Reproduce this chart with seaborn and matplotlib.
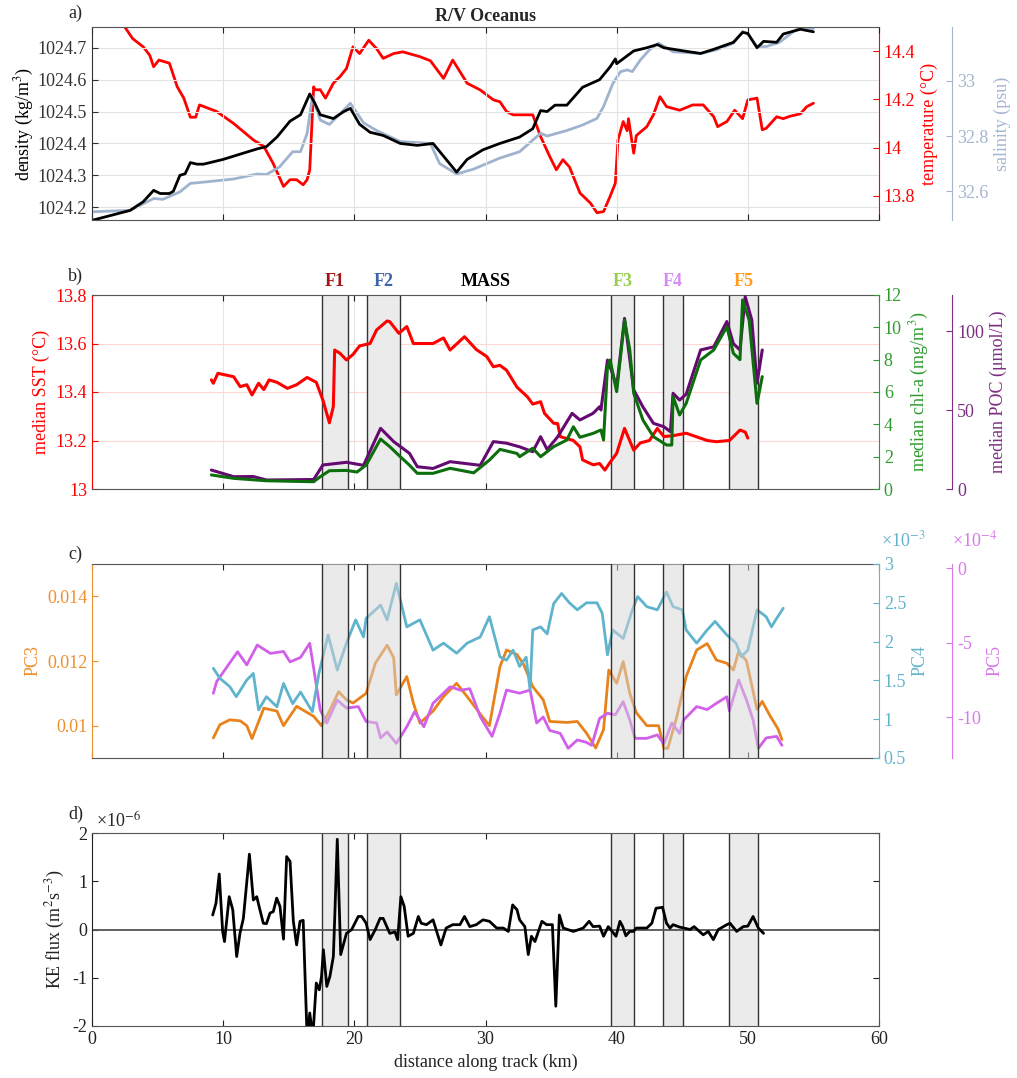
import numpy as np
import pandas as pd
import matplotlib
matplotlib.use('Agg')
import matplotlib.pyplot as plt
from matplotlib.ticker import FuncFormatter
import seaborn as sns

# ---------------- data ----------------
# panel a (R/V Oceanus, along-track)
dens_km = [0.1, 1.5, 2.9, 3.9, 4.7, 5.2, 5.9, 6.2, 6.7, 7.1, 7.5, 8.0, 8.5, 10.0, 12.6, 13.3, 14.1, 15.1, 15.9, 16.6,
           17.0, 17.4, 18.4, 19.2, 19.7, 20.4, 21.2, 22.2, 23.5, 24.8, 26.0, 26.8, 27.8, 28.6, 29.8, 31.1, 32.6, 33.6,
           34.2, 34.7, 35.3, 36.2, 37.4, 38.7, 39.5, 39.9, 40.0, 41.3, 42.3, 43.1, 43.6, 45.1, 46.4, 47.4, 48.9, 49.6,
           50.0, 50.7, 51.2, 52.2, 52.7, 54.0, 55.0]
density = [1024.16, 1024.175, 1024.19, 1024.217, 1024.253, 1024.243, 1024.243, 1024.25, 1024.30, 1024.305, 1024.34,
           1024.335, 1024.335, 1024.35, 1024.383, 1024.39, 1024.42, 1024.47, 1024.49, 1024.555, 1024.525, 1024.49,
           1024.478, 1024.50, 1024.51, 1024.46, 1024.435, 1024.425, 1024.40, 1024.394, 1024.40, 1024.36, 1024.31,
           1024.35, 1024.38, 1024.40, 1024.42, 1024.446, 1024.503, 1024.50, 1024.52, 1024.52, 1024.576, 1024.60,
           1024.64, 1024.665, 1024.65, 1024.69, 1024.70, 1024.71, 1024.70, 1024.69, 1024.682, 1024.695, 1024.717,
           1024.748, 1024.745, 1024.70, 1024.72, 1024.717, 1024.743, 1024.758, 1024.75]

sal_km = [0.1, 2.9, 4.7, 5.4, 6.7, 7.5, 8.8, 10.8, 12.6, 13.3, 14.3, 15.3, 15.9, 16.4, 16.8, 17.4, 18.1, 19.7, 20.7,
          21.7, 23.5, 25.8, 26.5, 27.8, 29.1, 31.1, 32.6, 34.2, 34.7, 36.2, 37.4, 38.5, 39.0, 39.7, 40.3, 40.8, 41.2,
          41.8, 42.5, 43.2, 44.3, 46.4, 47.6, 48.9, 49.6, 50.0, 50.7, 51.4, 52.4, 53.5, 54.0, 55.0]
salinity = [32.525, 32.53, 32.573, 32.57, 32.597, 32.628, 32.634, 32.644, 32.662, 32.66, 32.688, 32.743, 32.743,
            32.81, 32.943, 32.858, 32.842, 32.919, 32.848, 32.82, 32.78, 32.773, 32.70, 32.662, 32.68, 32.72, 32.743,
            32.81, 32.80, 32.82, 32.84, 32.864, 32.907, 32.99, 33.034, 33.04, 33.034, 33.076, 33.113, 33.137, 33.106,
            33.10, 33.113, 33.137, 33.18, 33.17, 33.125, 33.125, 33.14, 33.18, 33.194, 33.19]

temp_km = [1.8, 2.5, 3.1, 3.9, 4.4, 4.7, 5.1, 5.9, 6.5, 7.0, 7.5, 7.9, 8.2, 9.5, 10.8, 12.3, 13.1, 13.8, 14.6, 15.1,
           15.6, 16.1, 16.4, 16.6, 16.9, 17.0, 17.4, 17.8, 18.4, 18.9, 19.4, 19.9, 20.4, 21.1, 21.7, 22.2, 23.0, 23.7,
           25.0, 25.8, 26.8, 27.5, 28.6, 29.6, 30.6, 31.1, 31.6, 32.1, 32.6, 33.6, 34.2, 34.9, 35.4, 35.9, 36.4, 37.2,
           38.0, 38.5, 39.0, 39.5, 39.9, 40.1, 40.5, 40.8, 40.9, 41.3, 41.5, 42.3, 42.8, 43.3, 43.8, 44.8, 45.8, 46.6,
           47.4, 47.7, 48.4, 49.0, 49.6, 50.0, 50.7, 51.1, 51.4, 52.2, 52.7, 53.2, 54.0, 54.5, 55.0]
temperature = [14.56, 14.50, 14.452, 14.418, 14.383, 14.335, 14.363, 14.35, 14.252, 14.205, 14.126, 14.126, 14.177,
               14.15, 14.10, 14.032, 14.005, 13.936, 13.839, 13.867, 13.867, 13.846, 13.867, 13.908, 14.252, 14.24,
               14.24, 14.205, 14.267, 14.294, 14.328, 14.418, 14.39, 14.445, 14.41, 14.37, 14.39, 14.397, 14.377,
               14.36, 14.287, 14.363, 14.267, 14.239, 14.198, 14.19, 14.15, 14.136, 14.136, 14.136, 14.046, 13.963,
               13.908, 13.95, 13.92, 13.812, 13.77, 13.73, 13.735, 13.798, 13.853, 14.032, 14.108, 14.07, 14.12,
               13.977, 14.05, 14.087, 14.136, 14.211, 14.17, 14.155, 14.177, 14.177, 14.128, 14.087, 14.108, 14.155,
               14.12, 14.198, 14.205, 14.074, 14.08, 14.128, 14.12, 14.13, 14.14, 14.17, 14.184]

# panel b (MASS)
sst_km = [9.1, 9.25, 9.6, 10.8, 11.3, 11.8, 12.2, 12.7, 13.1, 13.5, 14.1, 14.9, 15.6, 16.4, 17.1, 17.6, 18.1, 18.4,
          18.5, 18.9, 19.4, 19.9, 20.4, 21.2, 21.7, 22.5, 22.7, 23.4, 24.0, 24.5, 26.0, 26.8, 27.3, 28.4, 29.3, 30.1,
          30.6, 31.1, 31.6, 32.4, 33.2, 33.6, 34.2, 34.5, 35.2, 35.5, 35.7, 36.7, 37.2, 37.4, 38.2, 38.7, 39.1, 39.5,
          40.0, 40.6, 41.3, 41.8, 42.5, 43.1, 43.6, 44.3, 45.3, 46.9, 47.6, 48.6, 49.4, 49.8, 50.0]
sst = [13.45, 13.436, 13.477, 13.463, 13.422, 13.43, 13.388, 13.436, 13.41, 13.45, 13.44, 13.415, 13.43, 13.46, 13.44,
       13.367, 13.273, 13.34, 13.573, 13.56, 13.532, 13.555, 13.59, 13.60, 13.656, 13.693, 13.69, 13.642, 13.67, 13.60,
       13.60, 13.623, 13.573, 13.628, 13.575, 13.546, 13.504, 13.51, 13.49, 13.42, 13.38, 13.35, 13.36, 13.312, 13.271,
       13.27, 13.216, 13.20, 13.174, 13.12, 13.10, 13.105, 13.078, 13.11, 13.147, 13.25, 13.16, 13.19, 13.20, 13.25,
       13.216, 13.22, 13.23, 13.20, 13.195, 13.20, 13.243, 13.235, 13.21]

chl_km = [9.1, 10.8, 13.3, 16.9, 17.4, 18.1, 19.4, 20.2, 20.9, 22.0, 22.7, 23.5, 24.2, 24.8, 26.0, 27.3, 29.1, 30.3,
          31.1, 32.4, 32.6, 33.6, 34.2, 35.2, 36.2, 36.7, 37.2, 38.2, 38.8, 39.0, 39.3, 39.5, 40.0, 40.6, 41.0, 41.3,
          42.0, 42.8, 43.8, 44.2, 44.3, 44.8, 45.3, 46.4, 47.4, 48.4, 48.9, 49.4, 49.6, 50.1, 50.7, 51.1]
chl = [0.87, 0.66, 0.51, 0.45, 0.76, 1.13, 1.15, 1.05, 1.48, 3.09, 2.62, 2.0, 1.48, 0.97, 0.97, 1.28, 1.0, 1.79, 2.45,
       2.2, 2.0, 2.52, 2.0, 2.62, 3.03, 3.85, 3.2, 3.44, 3.65, 3.03, 7.56, 7.98, 6.02, 10.45, 8.6, 5.92, 4.27, 3.24,
       2.72, 2.72, 5.71, 4.58, 5.3, 7.98, 8.6, 10.04, 8.39, 8.0, 11.69, 10.45, 5.3, 6.95]

poc_km = [9.1, 10.8, 12.3, 13.3, 16.9, 17.6, 19.4, 20.7, 22.0, 23.0, 24.2, 24.8, 26.0, 27.3, 29.6, 30.6, 31.6, 32.6,
          33.6, 34.2, 34.7, 35.5, 36.6, 37.2, 38.2, 38.7, 38.8, 39.3, 39.6, 40.0, 40.6, 41.3, 42.0, 42.8, 43.6, 44.1,
          44.3, 44.8, 45.3, 46.4, 47.4, 48.4, 48.9, 49.4, 49.8, 50.3, 50.7, 51.1]
poc = [12.0, 7.8, 7.9, 5.7, 6.0, 15.2, 16.9, 15.0, 38.4, 30.0, 22.6, 14.1, 13.0, 17.3, 15.0, 30.0, 29.0, 26.7, 23.6,
       33.1, 25.0, 33.0, 47.9, 43.7, 47.9, 52.1, 50.0, 81.6, 75.0, 64.7, 108.0, 62.7, 52.0, 41.6, 39.4, 36.3, 60.6,
       56.3, 60.0, 88.0, 90.0, 106.0, 92.0, 88.0, 121.7, 107.0, 67.0, 88.0]

# panel c (principal components)
pc3_km = [9.25, 9.75, 10.5, 11.3, 11.8, 12.2, 13.1, 14.1, 14.6, 15.6, 16.9, 17.5, 18.1, 18.8, 19.4, 19.9, 20.9, 21.6,
          22.5, 23.0, 23.2, 24.0, 24.5, 25.0, 26.0, 26.8, 27.8, 28.6, 29.6, 30.3, 31.1, 31.6, 32.4, 32.9, 33.6, 34.4,
          34.9, 36.2, 37.0, 37.7, 38.4, 39.0, 39.4, 40.0, 40.5, 41.0, 41.5, 42.3, 43.2, 43.6, 43.9, 44.6, 45.3, 46.1,
          46.9, 47.6, 48.4, 48.9, 49.3, 49.9, 50.7, 51.1, 51.7, 52.3, 52.6]
pc3 = [0.00962, 0.01003, 0.01018, 0.01015, 0.0100, 0.0096, 0.01054, 0.01045, 0.0100, 0.0106, 0.01029, 0.0100,
       0.01045, 0.01105, 0.0108, 0.0107, 0.0110, 0.01193, 0.01249, 0.0121, 0.01095, 0.01152, 0.0107, 0.01008, 0.01045,
       0.0109, 0.01131, 0.0109, 0.01036, 0.0100, 0.01182, 0.01234, 0.0122, 0.0119, 0.01121, 0.0108, 0.01013, 0.0101,
       0.01013, 0.00977, 0.00931, 0.00988, 0.01172, 0.01131, 0.01198, 0.0110, 0.0104, 0.0100, 0.0100, 0.0093, 0.0093,
       0.0103, 0.01152, 0.01234, 0.01254, 0.01203, 0.01193, 0.01172, 0.0123, 0.0120, 0.0105, 0.01075, 0.0103, 0.0099,
       0.00957]

pc4_km = [9.25, 9.75, 10.5, 11.0, 11.8, 12.3, 12.7, 13.3, 14.1, 14.6, 15.3, 15.9, 16.8, 17.3, 18.0, 18.7, 19.4, 20.1,
          20.7, 20.9, 22.0, 22.5, 23.2, 24.0, 25.0, 26.0, 26.8, 27.8, 28.6, 29.6, 30.3, 31.1, 31.6, 32.1, 32.6, 33.1,
          33.4, 33.6, 34.2, 34.7, 35.2, 35.8, 36.4, 37.0, 37.7, 38.5, 38.9, 39.3, 39.7, 40.5, 41.2, 41.6, 42.3, 43.1,
          43.8, 44.3, 45.0, 45.3, 46.1, 46.9, 47.5, 48.4, 49.1, 49.5, 50.0, 50.7, 51.4, 51.8, 52.2, 52.7]
pc4_e3 = [1.656, 1.527, 1.42, 1.29, 1.505, 1.59, 1.12, 1.29, 1.16, 1.46, 1.2, 1.35, 1.097, 1.59, 2.085, 1.634, 1.98,
          2.28, 2.06, 2.3, 2.47, 2.28, 2.75, 2.19, 2.28, 1.89, 1.98, 1.85, 1.98, 2.06, 2.32, 1.805, 1.76, 1.89, 1.68,
          1.8, 1.376, 2.15, 2.19, 2.1, 2.49, 2.62, 2.5, 2.41, 2.5, 2.5, 2.365, 1.83, 2.15, 2.04, 2.41, 2.58, 2.45,
          2.41, 2.64, 2.45, 2.41, 2.15, 1.98, 2.15, 2.26, 2.085, 1.98, 1.805, 1.89, 2.41, 2.32, 2.19, 2.3, 2.43]

pc5_km = [9.25, 9.5, 10.3, 11.1, 11.8, 12.6, 13.6, 14.6, 15.1, 15.9, 16.6, 17.4, 17.9, 18.7, 19.4, 20.3, 20.9, 21.7,
          22.0, 22.5, 23.2, 24.0, 24.6, 25.3, 26.0, 27.3, 28.1, 28.8, 29.6, 30.5, 31.1, 31.6, 32.6, 33.4, 33.9, 34.4,
          34.9, 35.7, 36.3, 37.0, 37.7, 38.1, 38.7, 39.3, 39.9, 40.5, 41.0, 41.4, 42.3, 43.1, 43.6, 44.2, 44.8, 45.1,
          46.1, 46.9, 47.6, 48.4, 48.6, 49.3, 49.9, 50.4, 50.8, 51.4, 52.2, 52.6]
pc5_e4 = [-8.41, -7.63, -6.62, -5.62, -6.5, -5.17, -5.73, -5.6, -6.3, -6.0, -5.05, -9.53, -10.4, -8.86, -9.4, -9.3,
          -10.3, -10.4, -11.4, -11.0, -11.77, -10.65, -9.64, -10.65, -9.08, -7.97, -8.2, -8.1, -9.98, -11.3, -9.75,
          -8.19, -8.4, -8.19, -10.4, -10.0, -10.9, -11.1, -12.1, -11.54, -11.7, -11.9, -10.09, -9.75, -9.85, -8.97,
          -10.2, -11.43, -11.43, -11.2, -11.8, -10.4, -11.1, -10.2, -9.3, -9.5, -9.08, -8.64, -9.6, -7.52, -8.86,
          -10.2, -12.1, -11.4, -11.3, -11.9]

# panel d (KE flux, x1e-6)
ke_km = [9.2, 9.45, 9.7, 9.96, 10.1, 10.46, 10.73, 11.03, 11.28, 11.54, 12.0, 12.3, 12.56, 12.8, 13.06, 13.3, 13.57,
         13.82, 14.08, 14.33, 14.6, 14.84, 15.1, 15.35, 15.6, 15.86, 16.1, 16.37, 16.49, 16.6, 16.75, 16.87, 17.1,
         17.33, 17.5, 17.64, 17.9, 18.14, 18.4, 18.5, 18.7, 18.96, 19.2, 19.4, 19.8, 20.3, 20.56, 20.9, 21.2, 21.6,
         21.96, 22.2, 22.7, 23.1, 23.3, 23.55, 23.8, 24.1, 24.5, 24.88, 25.1, 25.5, 26.0, 26.6, 27.0, 27.5, 28.05,
         28.4, 28.8, 29.3, 29.8, 30.3, 30.85, 31.36, 31.74, 32.07, 32.4, 32.6, 33.0, 33.26, 33.5, 33.77, 34.3, 34.66,
         35.1, 35.36, 35.63, 35.93, 36.7, 37.45, 37.9, 38.2, 38.7, 39.0, 39.36, 39.95, 40.25, 40.46, 40.7, 41.0,
         41.27, 41.5, 42.3, 42.68, 43.0, 43.5, 43.8, 44.07, 44.3, 44.8, 45.6, 45.9, 46.6, 46.98, 47.37, 47.75, 48.4,
         48.64, 49.15, 49.65, 50.0, 50.4, 50.8, 51.2]
ke_e6 = [0.30, 0.54, 1.15, -0.04, -0.25, 0.68, 0.41, -0.56, -0.08, 0.23, 1.56, 0.61, 0.68, 0.41, 0.13, 0.12, 0.34,
         0.37, 0.65, 0.48, -0.2, 1.51, 1.41, 0.17, -0.32, 0.17, 0.19, -2.0, -2.08, -1.73, -2.05, -2.08, -1.11, -1.25,
         -0.97, -0.42, -1.18, -0.97, -0.56, 0.2, 1.87, -0.52, -0.28, -0.08, 0.0, 0.27, 0.27, 0.13, -0.21, 0.0, 0.23,
         0.23, -0.08, -0.05, -0.21, 0.68, 0.48, -0.14, -0.08, 0.27, 0.13, 0.1, 0.2, -0.32, 0.03, 0.1, 0.1, 0.27, 0.06,
         0.1, 0.2, 0.17, 0.03, 0.03, -0.04, 0.51, 0.41, 0.2, 0.06, -0.52, -0.14, -0.25, 0.17, 0.1, 0.1, -1.59, 0.3,
         0.03, -0.04, 0.03, 0.17, 0.06, 0.07, -0.14, 0.06, -0.14, 0.17, 0.06, -0.13, -0.04, -0.04, 0.03, 0.03, 0.13,
         0.44, 0.46, 0.13, 0.03, 0.1, 0.05, 0.0, 0.06, -0.11, -0.04, -0.21, 0.0, 0.1, 0.13, -0.04, 0.06, 0.07, 0.27,
         0.03, -0.08]

# fronts
front_names = ['F1', 'F2', 'F3', 'F4', 'F5']
front_start = [17.5, 21.0, 39.55, 43.5, 48.55]
front_end = [19.5, 23.5, 41.3, 45.05, 50.8]
front_colors = ['#a31515', '#3e63a8', '#95cf4a', '#d68cf2', '#ff9b1e']

# ---------------- style ----------------
sns.set_style("white")
plt.rcParams['font.family'] = ['Liberation Serif', 'DejaVu Serif']
plt.rcParams['mathtext.fontset'] = 'stix'
plt.rcParams['font.size'] = 13
plt.rcParams['axes.unicode_minus'] = False

fmt = FuncFormatter(lambda v, p: f'{v:g}')
SPINE = '#555555'

fig = plt.figure(figsize=(10.17, 10.78), dpi=100)
L, W = 92 / 1017, 787 / 1017
def axpos(top, bot):
    return [L, 1 - bot / 1078, W, (bot - top) / 1078]

def style_host(ax, ycolor, xlabels=False):
    ax.set_xlim(0, 60)
    ax.set_xticks(range(0, 61, 10))
    if not xlabels:
        ax.set_xticklabels([])
    for s in ['top', 'bottom']:
        ax.spines[s].set_color(SPINE)
        ax.spines[s].set_linewidth(0.8)
    ax.spines['left'].set_color(ycolor)
    ax.spines['left'].set_linewidth(0.8)
    ax.spines['right'].set_visible(False)
    ax.tick_params(axis='x', direction='in', length=4, top=True, bottom=True, colors='#222222')
    ax.tick_params(axis='y', direction='in', length=4, left=True, colors=ycolor)
    ax.yaxis.set_major_formatter(fmt)

def add_right(ax, pos, color, ylim, ticks, label, lcolor=None):
    tw = ax.twinx()
    for s in ['left', 'top', 'bottom']:
        tw.spines[s].set_visible(False)
    tw.spines['right'].set_position(('axes', pos))
    tw.spines['right'].set_color(color)
    tw.spines['right'].set_linewidth(0.8)
    tw.set_ylim(*ylim)
    tw.set_yticks(ticks)
    tw.yaxis.set_major_formatter(fmt)
    tw.tick_params(axis='y', direction='in', length=4, colors=color, right=True)
    tw.set_ylabel(label, color=lcolor or color)
    return tw

def line(ax, x, y, color, lw=2.0, z=2):
    sns.lineplot(x=x, y=y, ax=ax, color=color, linewidth=lw, estimator=None, zorder=z)
    ax.set_xlabel('')
    ax.set_ylabel('')

# ---------- panel a ----------
axa = fig.add_axes(axpos(27, 220))
line(axa, dens_km, density, 'black')
style_host(axa, '#333333')
axa.set_ylim(1024.16, 1024.765)
axa.set_yticks([1024.2, 1024.3, 1024.4, 1024.5, 1024.6, 1024.7])
axa.grid(True, color='#e2e2e2', linewidth=0.8)
axa.set_axisbelow(True)
axa.set_ylabel('density (kg/m$^3$)', color='black', labelpad=1)
axa.set_title('R/V Oceanus', fontweight='bold', fontsize=13, pad=4)
sal_ax = add_right(axa, 1.093, '#a4b6cf', (32.495, 33.196), [32.6, 32.8, 33.0], 'salinity (psu)')
line(sal_ax, sal_km, salinity, '#9fb3cf')
sal_ax.set_ylabel('salinity (psu)', color='#a4b6cf')
tmp_ax = add_right(axa, 1.0, '#ff0000', (13.7, 14.5), [13.8, 14.0, 14.2, 14.4], 'temperature (°C)')
line(tmp_ax, temp_km, temperature, '#ff0000')
tmp_ax.set_ylabel('temperature (°C)', color='#ff0000')
# density on top
axa.set_zorder(tmp_ax.get_zorder() + 1)
axa.patch.set_visible(False)
sal_ax.set_zorder(axa.get_zorder() - 1)
tmp_ax.set_zorder(sal_ax.get_zorder() - 1)
tmp_ax.patch.set_visible(True)
tmp_ax.patch.set_facecolor('white')

# ---------- panel b ----------
axb = fig.add_axes(axpos(295, 489))
line(axb, sst_km, sst, '#ff0000', lw=2.2)
style_host(axb, '#ff0000')
axb.set_ylim(13, 13.8)
axb.set_yticks([13, 13.2, 13.4, 13.6, 13.8])
axb.grid(axis='y', color='#ffd6d6', linewidth=0.8)
axb.grid(axis='x', color='#e6e6e6', linewidth=0.8)
axb.set_axisbelow(True)
axb.set_ylabel('median SST (°C)', color='#ff0000')
for s, e in zip(front_start, front_end):
    axb.axvspan(s, e, facecolor='#ebebeb', edgecolor='none', zorder=0.8)
    axb.axvline(s, color='#333333', lw=1.0, zorder=0.9)
    axb.axvline(e, color='#333333', lw=1.0, zorder=0.9)
poc_ax = add_right(axb, 1.093, '#7d2f82', (0, 122.8), [0, 50, 100], 'median POC (μmol/L)')
line(poc_ax, poc_km, poc, '#650a70', lw=2.2)
poc_ax.set_ylabel('median POC (μmol/L)', color='#7d2f82')
chl_ax = add_right(axb, 1.0, '#2f9a2f', (0, 12), list(range(0, 13, 2)), 'median chl-a (mg/m$^3$)')
line(chl_ax, chl_km, chl, '#0c6e0c', lw=2.2)
chl_ax.set_ylabel('median chl-a (mg/m$^3$)', color='#2f9a2f')
trans_b = axb.get_xaxis_transform()
for n, s, e, c in zip(front_names, front_start, front_end, front_colors):
    axb.text((s + e) / 2, 1.025, n, transform=trans_b, ha='center', va='bottom',
             color=c, fontweight='bold', fontsize=13)
axb.text(30, 1.025, 'MASS', transform=trans_b, ha='center', va='bottom', color='black',
         fontweight='bold', fontsize=13)

# ---------- panel c ----------
axc = fig.add_axes(axpos(564, 758))
line(axc, pc3_km, pc3, '#e8821c')
style_host(axc, '#ee8f2e')
axc.set_ylim(0.009, 0.015)
axc.set_yticks([0.010, 0.012, 0.014])
axc.set_ylabel('PC3', color='#ee8f2e')
pc5_ax = add_right(axc, 1.093, '#d878ea', (-12.75, 0.27), [-10, -5, 0], 'PC5')
line(pc5_ax, pc5_km, pc5_e4, '#d25fea')
pc5_ax.set_ylabel('PC5', color='#d878ea')
pc4_ax = add_right(axc, 1.0, '#62b4cc', (0.5, 3.0), [0.5, 1, 1.5, 2, 2.5, 3], 'PC4')
line(pc4_ax, pc4_km, pc4_e3, '#5fb3cc')
pc4_ax.set_ylabel('PC4', color='#62b4cc')
pc5_ax.set_zorder(axc.get_zorder() + 1)
pc4_ax.set_zorder(axc.get_zorder() + 2)
shade_c = fig.add_axes(axpos(564, 758), sharex=axc)
shade_c.set_zorder(axc.get_zorder() + 3)
shade_c.patch.set_visible(False)
shade_c.axis('off')
for s, e in zip(front_start, front_end):
    shade_c.axvspan(s, e, facecolor='#d6d6d6', edgecolor='none', alpha=0.5)
    shade_c.axvline(s, color='#333333', lw=1.0)
    shade_c.axvline(e, color='#333333', lw=1.0)
shade_c.set_xlim(0, 60)
axc.text(1.003, 1.07, '×10$^{-3}$', transform=axc.transAxes, ha='left', va='bottom', color='#62b4cc', fontsize=13)
axc.text(1.093, 1.07, '×10$^{-4}$', transform=axc.transAxes, ha='left', va='bottom', color='#d878ea', fontsize=13)

# ---------- panel d ----------
axd = fig.add_axes(axpos(833, 1026))
line(axd, ke_km, ke_e6, 'black')
style_host(axd, '#222222', xlabels=True)
axd.spines['right'].set_visible(True)
axd.spines['right'].set_color(SPINE)
axd.spines['right'].set_linewidth(0.8)
axd.tick_params(axis='y', right=True, labelright=False)
axd.set_ylim(-2, 2)
axd.set_yticks([-2, -1, 0, 1, 2])
axd.axhline(0, color='#555555', lw=1.3, zorder=1)
for s, e in zip(front_start, front_end):
    axd.axvspan(s, e, facecolor='#ebebeb', edgecolor='none', zorder=0.8)
    axd.axvline(s, color='#333333', lw=1.0, zorder=0.9)
    axd.axvline(e, color='#333333', lw=1.0, zorder=0.9)
axd.set_ylabel('KE flux (m$^2$s$^{-3}$)', color='#222222')
axd.set_xlabel('distance along track (km)', color='#222222')
axd.text(0.005, 1.005, '×10$^{-6}$', transform=axd.transAxes, ha='left', va='bottom', fontsize=13)

# panel letters
for lab, ypx in zip(['a)', 'b)', 'c)', 'd)'], [13, 276, 554, 814]):
    fig.text(68 / 1017, 1 - ypx / 1078, lab, ha='left', va='center', fontsize=13)

fig.savefig('out.png', dpi=100)
